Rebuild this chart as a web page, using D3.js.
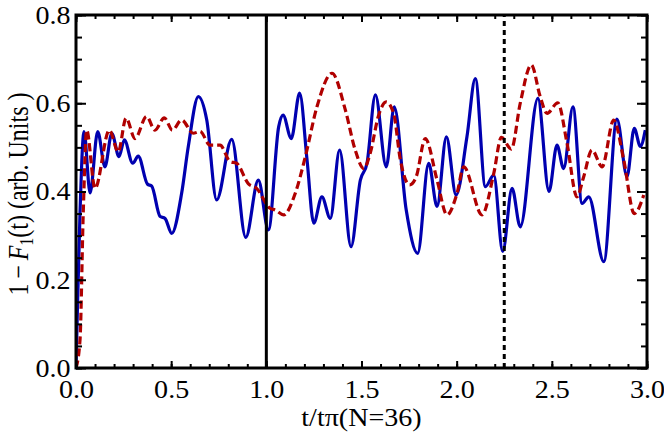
<!DOCTYPE html>
<html>
<head>
<meta charset="utf-8">
<script src="https://cdn.jsdelivr.net/npm/d3@7"></script>
<style>
  body { margin: 0; background: #fff; }
  svg { display: block; }
</style>
</head>
<body>
<svg id="chart" width="664" height="442"></svg>
<script>
// data: [t/tpi, 1 - F1(t)]
const blueSeries = [
  [0, 0], [0.007, 0.125], [0.021, 0.351], [0.042, 0.536], [0.074, 0.397], [0.114, 0.536],
  [0.152, 0.456], [0.188, 0.532], [0.226, 0.479], [0.254, 0.517], [0.298, 0.464], [0.327, 0.480],
  [0.375, 0.417], [0.398, 0.412], [0.441, 0.344], [0.468, 0.339], [0.503, 0.305], [0.555, 0.396],
  [0.590, 0.502], [0.643, 0.615], [0.687, 0.562], [0.739, 0.381], [0.818, 0.518], [0.892, 0.296],
  [0.958, 0.426], [1.011, 0.313], [1.065, 0.547], [1.088, 0.573], [1.131, 0.520], [1.175, 0.623],
  [1.214, 0.471], [1.249, 0.328], [1.292, 0.388], [1.336, 0.339], [1.385, 0.494], [1.445, 0.275],
  [1.494, 0.426], [1.529, 0.464], [1.573, 0.619], [1.630, 0.456], [1.672, 0.592], [1.735, 0.358],
  [1.795, 0.260], [1.853, 0.464], [1.897, 0.366], [1.946, 0.524], [1.997, 0.392], [2.054, 0.524],
  [2.098, 0.656], [2.151, 0.411], [2.195, 0.437], [2.242, 0.264], [2.291, 0.407], [2.334, 0.320],
  [2.427, 0.611], [2.485, 0.400], [2.527, 0.505], [2.562, 0.452], [2.611, 0.592], [2.659, 0.373],
  [2.694, 0.388], [2.773, 0.241], [2.842, 0.564], [2.895, 0.434], [2.933, 0.543], [2.965, 0.502],
  [2.991, 0.539]
];
const redSeries = [
  [0, 0], [0.021, 0.063], [0.038, 0.351], [0.056, 0.539], [0.100, 0.407], [0.175, 0.539],
  [0.222, 0.490], [0.263, 0.566], [0.310, 0.520], [0.371, 0.570], [0.415, 0.539], [0.464, 0.567],
  [0.506, 0.539], [0.555, 0.562], [0.616, 0.532], [0.652, 0.536], [0.704, 0.505], [0.757, 0.505],
  [0.809, 0.468], [0.844, 0.464], [0.905, 0.418], [0.949, 0.407], [1.019, 0.362], [1.047, 0.358],
  [1.091, 0.347], [1.152, 0.396], [1.205, 0.479], [1.266, 0.592], [1.345, 0.668], [1.415, 0.585],
  [1.467, 0.494], [1.512, 0.452], [1.546, 0.487], [1.590, 0.573], [1.630, 0.603], [1.669, 0.577],
  [1.704, 0.472], [1.753, 0.415], [1.788, 0.434], [1.835, 0.520], [1.897, 0.426], [1.949, 0.347],
  [2.002, 0.396], [2.037, 0.456], [2.133, 0.347], [2.195, 0.441], [2.235, 0.523], [2.287, 0.496],
  [2.334, 0.600], [2.392, 0.687], [2.439, 0.615], [2.475, 0.577], [2.531, 0.601], [2.580, 0.509],
  [2.632, 0.388], [2.667, 0.433], [2.711, 0.494], [2.764, 0.456], [2.825, 0.562], [2.878, 0.471],
  [2.933, 0.350], [2.983, 0.392]
];
const xMajorTicks = [0, 0.5, 1, 1.5, 2, 2.5, 3];
const yMajorTicks = [0, 0.2, 0.4, 0.6, 0.8];
const xMinorTicks = d3.range(0, 31).map(i => i / 10);
const yMinorTicks = d3.range(0, 17).map(i => i / 20);
const solidMarker = 1;     // vertical solid line
const dottedMarker = 2.25; // vertical dotted line

const svg = d3.select('#chart');
const pL = 76, pR = 647, pT = 15, pB = 368;
const serif = '"Liberation Serif", "Times New Roman", serif';
const stretch = 'scale(1.08,1)'; // the original type is a bit wide

const x = d3.scaleLinear().domain([0, 3]).range([pL, pR]);
const y = d3.scaleLinear().domain([0, 0.8]).range([pB, pT]);

const g = svg.append('g');

// clip to the frame
svg.append('defs').append('clipPath').attr('id', 'plotclip')
  .append('rect').attr('x', pL).attr('y', pT).attr('width', pR - pL).attr('height', pB - pT);

const plot = g.append('g').attr('clip-path', 'url(#plotclip)');

const line = d3.line()
  .x(d => x(d[0]))
  .y(d => y(d[1]))
  .curve(d3.curveMonotoneX);

plot.append('path')
  .datum(blueSeries)
  .attr('d', line)
  .attr('fill', 'none')
  .attr('stroke', '#0000b0')
  .attr('stroke-width', 3.2)
  .attr('stroke-linejoin', 'round');

plot.append('path')
  .datum(redSeries)
  .attr('d', line)
  .attr('fill', 'none')
  .attr('stroke', '#b00000')
  .attr('stroke-width', 3.2)
  .attr('stroke-dasharray', '8,4');

// vertical markers
g.append('line')
  .attr('x1', x(solidMarker)).attr('x2', x(solidMarker))
  .attr('y1', y(0)).attr('y2', y(0.8))
  .attr('stroke', '#000').attr('stroke-width', 3);

g.append('line')
  .attr('x1', x(dottedMarker)).attr('x2', x(dottedMarker))
  .attr('y1', y(0)).attr('y2', y(0.8))
  .attr('stroke', '#000').attr('stroke-width', 3)
  .attr('stroke-dasharray', '5,4');

// axes - ticks pointing inward on all four sides
const fmt = d3.format('.1f');

function styleAxis(sel) {
  sel.select('.domain').remove();
  sel.attr('font-family', serif);
  sel.selectAll('.tick line').attr('stroke', '#000').attr('stroke-width', 2);
  sel.selectAll('.tick text')
    .attr('fill', '#000')
    .attr('transform', stretch)
    .style('font-family', serif)
    .style('font-size', '26px');
}

g.append('g').attr('transform', `translate(0,${pB})`)
  .call(d3.axisBottom(x).tickValues(xMinorTicks).tickSize(-4).tickFormat(''))
  .call(styleAxis);
g.append('g').attr('transform', `translate(0,${pB})`)
  .call(d3.axisBottom(x).tickValues(xMajorTicks).tickSize(-7).tickPadding(12).tickFormat(fmt))
  .call(styleAxis);
g.append('g').attr('transform', `translate(0,${pT})`)
  .call(d3.axisTop(x).tickValues(xMinorTicks).tickSize(-4).tickFormat(''))
  .call(styleAxis);
g.append('g').attr('transform', `translate(0,${pT})`)
  .call(d3.axisTop(x).tickValues(xMajorTicks).tickSize(-7).tickFormat(''))
  .call(styleAxis);

g.append('g').attr('transform', `translate(${pL},0)`)
  .call(d3.axisLeft(y).tickValues(yMinorTicks).tickSize(-6).tickFormat(''))
  .call(styleAxis);
g.append('g').attr('transform', `translate(${pL},0)`)
  .call(d3.axisLeft(y).tickValues(yMajorTicks).tickSize(-10).tickPadding(5).tickFormat(fmt))
  .call(styleAxis);
g.append('g').attr('transform', `translate(${pR},0)`)
  .call(d3.axisRight(y).tickValues(yMinorTicks).tickSize(-6).tickFormat(''))
  .call(styleAxis);
g.append('g').attr('transform', `translate(${pR},0)`)
  .call(d3.axisRight(y).tickValues(yMajorTicks).tickSize(-10).tickFormat(''))
  .call(styleAxis);

// frame
g.append('rect')
  .attr('x', pL).attr('y', pT)
  .attr('width', pR - pL).attr('height', pB - pT)
  .attr('fill', 'none').attr('stroke', '#000').attr('stroke-width', 3);

// axis labels
svg.append('text')
  .attr('transform', `translate(${(pL + pR) / 2},426) ${stretch}`)
  .attr('text-anchor', 'middle')
  .style('font-family', serif)
  .style('font-size', '26px')
  .text('t/tπ(N=36)');

const yl = svg.append('text')
  .attr('transform', 'translate(28,194) scale(1.2,1) rotate(-90)')
  .attr('text-anchor', 'middle')
  .style('font-family', serif)
  .style('font-size', '24px');
yl.append('tspan').text('1\u2009\u2212\u2009');
yl.append('tspan').style('font-style', 'italic').text('F');
yl.append('tspan').attr('dy', 4).style('font-size', '16px').text('1');
yl.append('tspan').attr('dy', -4).text('(t) (arb. Units )');
</script>
</body>
</html>
